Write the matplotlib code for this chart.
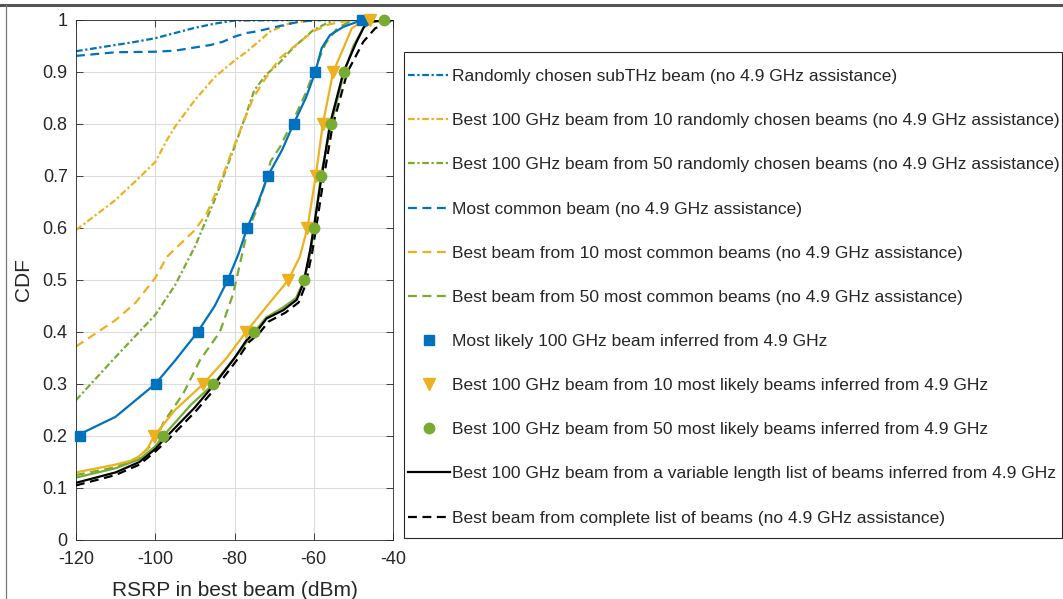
import numpy as np
import matplotlib
matplotlib.use("Agg")
import matplotlib.pyplot as plt
from matplotlib.lines import Line2D
from matplotlib.patches import Rectangle

plt.rcParams['font.family'] = ['Liberation Sans', 'DejaVu Sans']
plt.rcParams['axes.unicode_minus'] = False

BLUE = '#0072BD'
YEL = '#EDB120'
GRN = '#77AC30'
TXT = '#262626'

# ---------------- data (RSRP dBm, CDF) ----------------
rand_x = [-120, -115, -110, -105, -100, -95, -90, -85, -80, -60, -40]
rand_y = [0.94, 0.946, 0.952, 0.958, 0.965, 0.975, 0.985, 0.993, 0.999, 1.0, 1.0]

rand10_x = [-120, -115, -110, -105, -100, -97, -95, -90, -85, -80, -76.9, -74, -71, -66, -60, -40]
rand10_y = [0.596, 0.625, 0.654, 0.69, 0.727, 0.77, 0.795, 0.846, 0.89, 0.922, 0.939, 0.958, 0.978, 0.994, 1.0, 1.0]

rand50_x = [-120, -110, -100, -95, -90, -85, -80, -77, -75, -72, -69, -66, -63.5, -60.2, -57.7, -55, -40]
rand50_y = [0.269, 0.352, 0.433, 0.49, 0.564, 0.654, 0.756, 0.82, 0.865, 0.895, 0.915, 0.94, 0.958, 0.98, 0.99, 1.0, 1.0]

common_x = [-120, -110, -100, -95, -91, -86, -83, -80, -77, -74.4, -69.4, -63.5, -58, -40]
common_y = [0.931, 0.938, 0.939, 0.941, 0.946, 0.952, 0.958, 0.968, 0.975, 0.978, 0.987, 0.997, 1.0, 1.0]

common10_x = [-120, -110, -105, -100, -97, -94, -90, -87, -84, -80, -75.3, -72, -68.5, -64, -60.2, -56, -50, -40]
common10_y = [0.372, 0.423, 0.456, 0.504, 0.545, 0.567, 0.596, 0.628, 0.68, 0.76, 0.85, 0.89, 0.927, 0.955, 0.978, 0.992, 1.0, 1.0]

common50_x = [-120, -110, -104, -100, -98, -92.9, -88.7, -83.7, -80.3, -76.9, -74.4, -72.5, -70.9, -68.5, -65, -62, -59.5, -57, -54, -50, -40]
common50_y = [0.125, 0.14, 0.16, 0.19, 0.225, 0.282, 0.346, 0.40, 0.474, 0.59, 0.635, 0.68, 0.728, 0.756, 0.81, 0.86, 0.91, 0.955, 0.985, 1.0, 1.0]

likely1_x = [-120, -110, -100, -95, -89.3, -85, -81.7, -79, -76.8, -74, -71.6, -68, -65.1, -62, -59.6, -58, -55.9, -52.5, -47.7, -40]
likely1_y = [0.2, 0.237, 0.3, 0.345, 0.4, 0.45, 0.5, 0.55, 0.6, 0.65, 0.7, 0.75, 0.8, 0.85, 0.9, 0.946, 0.971, 0.987, 1.0, 1.0]

likely10_x = [-120, -110, -105, -102, -100.3, -95, -87.9, -82, -77.1, -71.9, -66.4, -63.5, -61.6, -59.5, -57.7, -55.1, -52.5, -50.4, -47.9, -45.8, -40]
likely10_y = [0.13, 0.145, 0.155, 0.175, 0.2, 0.25, 0.3, 0.35, 0.4, 0.449, 0.5, 0.545, 0.6, 0.7, 0.8, 0.9, 0.946, 0.984, 0.997, 1.0, 1.0]

likely50_x = [-120, -110, -104, -100, -98, -91, -85.3, -80, -75, -72, -68, -64.5, -62.4, -60.8, -59.9, -58.2, -55.6, -52.3, -50, -47.5, -45, -42.3, -40]
likely50_y = [0.12, 0.138, 0.155, 0.18, 0.2, 0.26, 0.3, 0.35, 0.4, 0.428, 0.446, 0.465, 0.5, 0.555, 0.6, 0.7, 0.8, 0.9, 0.95, 0.985, 0.997, 1.0, 1.0]

varlen_x = [-120, -110, -104, -100, -97, -90, -85, -80, -76.9, -74, -71.9, -67.7, -64.3, -62.6, -60.9, -59.7, -58, -55.9, -52.5, -49.2, -47.1, -45.4, -40]
varlen_y = [0.11, 0.13, 0.15, 0.175, 0.2, 0.255, 0.3, 0.35, 0.385, 0.405, 0.426, 0.442, 0.462, 0.494, 0.558, 0.615, 0.7, 0.8, 0.9, 0.958, 0.99, 0.997, 1.0]

full_x = [-120, -110, -104, -100, -96.5, -89.5, -84.5, -79.5, -76.4, -73.5, -71.4, -67.2, -63.8, -62.1, -60.4, -59.2, -57.5, -55.3, -51.5, -47.5, -44.5, -41.6, -40]
full_y = [0.105, 0.125, 0.145, 0.17, 0.195, 0.25, 0.295, 0.345, 0.38, 0.4, 0.42, 0.437, 0.457, 0.49, 0.553, 0.61, 0.695, 0.795, 0.9, 0.958, 0.984, 0.994, 1.0]

# marker positions (CDF levels 0.2 ... 1.0)
marker_cdf = [0.2, 0.3, 0.4, 0.5, 0.6, 0.7, 0.8, 0.9, 1.0]
likely1_mx = [-119.0, -99.7, -89.3, -81.7, -76.8, -71.6, -65.1, -59.6, -47.7]
likely10_mx = [-100.3, -87.9, -77.1, -66.4, -61.6, -59.5, -57.7, -55.1, -45.8]
likely50_mx = [-98.0, -85.3, -75.0, -62.4, -59.9, -58.2, -55.6, -52.3, -42.3]

labels = [
    "Randomly chosen subTHz beam (no 4.9 GHz assistance)",
    "Best 100 GHz beam from 10 randomly chosen beams (no 4.9 GHz assistance)",
    "Best 100 GHz beam from 50 randomly chosen beams (no 4.9 GHz assistance)",
    "Most common beam (no 4.9 GHz assistance)",
    "Best beam from 10 most common beams (no 4.9 GHz assistance)",
    "Best beam from 50 most common beams (no 4.9 GHz assistance)",
    "Most likely 100 GHz beam inferred from 4.9 GHz",
    "Best 100 GHz beam from 10 most likely beams inferred from 4.9 GHz",
    "Best 100 GHz beam from 50 most likely beams inferred from 4.9 GHz",
    "Best 100 GHz beam from a variable length list of beams inferred from 4.9 GHz",
    "Best beam from complete list of beams (no 4.9 GHz assistance)",
]

x_ticks = [-120, -100, -80, -60, -40]
y_ticks = [0, 0.1, 0.2, 0.3, 0.4, 0.5, 0.6, 0.7, 0.8, 0.9, 1.0]
y_ticklabels = ["0", "0.1", "0.2", "0.3", "0.4", "0.5", "0.6", "0.7", "0.8", "0.9", "1"]

# ---------------- figure ----------------
W, H = 1063, 599
fig = plt.figure(figsize=(W / 100, H / 100), dpi=100)
ax = fig.add_axes([76 / W, 1 - 540 / H, (393 - 76) / W, (540 - 20) / H])

lw = 1.6
DD = (0, (3, 1.2, 1, 1.2))
DS = (0, (4, 2.5))
h = []
h.append(ax.plot(rand_x, rand_y, color=BLUE, lw=lw, ls=DD)[0])
h.append(ax.plot(rand10_x, rand10_y, color=YEL, lw=lw, ls=DD)[0])
h.append(ax.plot(rand50_x, rand50_y, color=GRN, lw=lw, ls=DD)[0])
h.append(ax.plot(common_x, common_y, color=BLUE, lw=lw, ls=DS)[0])
h.append(ax.plot(common10_x, common10_y, color=YEL, lw=lw, ls=DS)[0])
h.append(ax.plot(common50_x, common50_y, color=GRN, lw=lw, ls=DS)[0])

ax.plot(likely1_x, likely1_y, color=BLUE, lw=lw)
ax.plot(likely10_x, likely10_y, color=YEL, lw=lw)
ax.plot(likely50_x, likely50_y, color=GRN, lw=lw)
hv = ax.plot(varlen_x, varlen_y, color='black', lw=lw, zorder=3)[0]
hf = ax.plot(full_x, full_y, color='black', lw=lw, ls=DS, zorder=3)[0]

m1 = ax.plot(likely1_mx, marker_cdf, ls='none', marker='s', ms=7, color=BLUE, zorder=4, clip_on=False)[0]
m2 = ax.plot(likely10_mx, marker_cdf, ls='none', marker='v', ms=9, color=YEL, zorder=4, clip_on=False)[0]
m3 = ax.plot(likely50_mx, marker_cdf, ls='none', marker='o', ms=7.5, color=GRN, zorder=4, clip_on=False)[0]
h += [m1, m2, m3, hv, hf]

ax.set_xlim(-120, -40)
ax.set_ylim(0, 1)
ax.set_xticks(x_ticks)
ax.set_yticks(y_ticks)
ax.set_yticklabels(y_ticklabels)
ax.grid(True, color='#dcdcdc', lw=0.8)
ax.set_axisbelow(True)
ax.tick_params(direction='in', top=True, right=True, labelsize=13, colors=TXT, length=5, width=0.6)
ax.tick_params(axis='x', pad=8)
ax.tick_params(axis='y', pad=6)
for s in ax.spines.values():
    s.set_color(TXT)
    s.set_linewidth(0.6)
ax.set_xlabel("RSRP in best beam (dBm)", fontsize=15, color=TXT, labelpad=9)
ax.set_ylabel("CDF", fontsize=15, color=TXT, labelpad=7)

# legend frame drawn explicitly, legend content placed inside
fig.add_artist(Rectangle((404 / W, 1 - 538 / H), (1062 - 404) / W, (538 - 52) / H,
                         transform=fig.transFigure, facecolor='white', edgecolor=TXT, lw=0.8, zorder=5))
leg = fig.legend(h, labels, loc='upper left', bbox_to_anchor=(408 / W, 1 - 69 / H),
                 bbox_transform=fig.transFigure, fontsize=12.5, frameon=False,
                 borderaxespad=0, borderpad=0, handlelength=2.4, handletextpad=0.12,
                 labelspacing=1.67)
leg.set_zorder(6)
for t in leg.get_texts():
    t.set_color(TXT)

# screenshot frame lines
fig.add_artist(Line2D([0, 1], [1 - 4.5 / H, 1 - 4.5 / H], transform=fig.transFigure, color='#555555', lw=2.2))
fig.add_artist(Line2D([6 / W, 6 / W], [0, 1 - 4.5 / H], transform=fig.transFigure, color='#777777', lw=0.9))

fig.savefig("out.png", dpi=100)
